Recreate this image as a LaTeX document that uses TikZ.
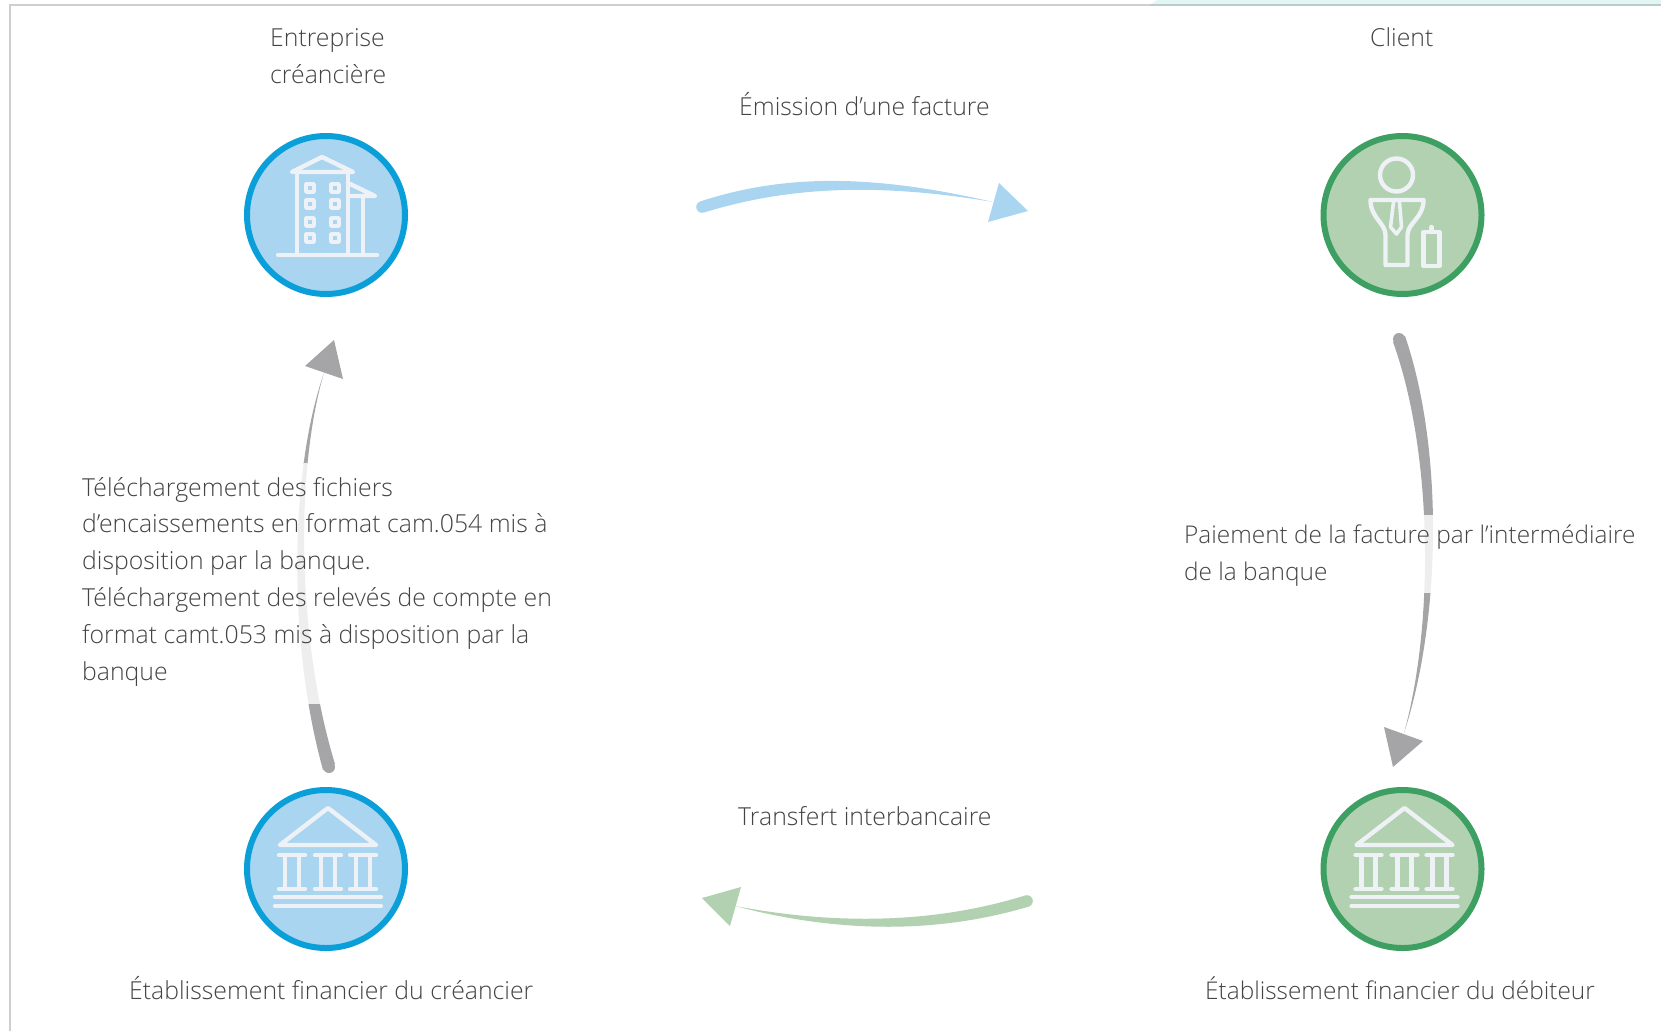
\documentclass[tikz,border=0pt]{standalone}
\usepackage{fontspec}
\setmainfont{Open Sans Light}
\definecolor{bluefill}{HTML}{A9D5F0}
\definecolor{bluering}{HTML}{0B9FDA}
\definecolor{greenfill}{HTML}{B1D1B0}
\definecolor{greenring}{HTML}{3E9F62}
\definecolor{arrowgrey}{HTML}{A5A5A7}
\definecolor{fadegrey}{HTML}{EEEEEE}
\definecolor{icongrey}{HTML}{EEF2F6}
\definecolor{textgrey}{HTML}{444444}
\definecolor{framegrey}{HTML}{CFCFCF}
\definecolor{bandteal}{HTML}{E0F5F4}
\definecolor{bandline}{HTML}{B8CCCB}
\tikzset{
    bluecircle/.style={circle, draw=bluering, fill=bluefill, line width=6pt, minimum size=158pt, inner sep=0pt},
    greencircle/.style={circle, draw=greenring, fill=greenfill, line width=6pt, minimum size=158pt, inner sep=0pt},
    label text/.style={anchor=base west, inner sep=0pt, text=textgrey, align=left, font=\fontsize{24.8}{36.8}\selectfont},
    narrow text/.style={label text, font=\fontsize{24.4}{36.8}\selectfont},
    icon/.style={draw=icongrey, line width=4.4pt, line join=round, line cap=round},
    bankicon/.pic={
        \draw[icon] (-46,-24) -- (2,-61) -- (50,-24) -- cycle;
        \foreach \c in {-34,2,37} {
            \draw[icon] (\c-13,-14) -- (\c+13,-14);
            \draw[icon] (\c-13,20) -- (\c+13,20);
            \draw[icon] (\c-7,-14) -- (\c-7,20);
            \draw[icon] (\c+7,-14) -- (\c+7,20);
        }
        \draw[icon] (-51,28) -- (55,28);
        \draw[icon] (-51,37) -- (55,37);
    }
}
\begin{document}
\begin{tikzpicture}[x=1pt, y=-1pt]
    \useasboundingbox (0,0) rectangle (1661,1031);
    % frame
    \fill[bandteal] (1157,0) -- (1661,0) -- (1661,5) -- (1150,5) -- cycle;
    \draw[framegrey, line width=1.5pt] (10,1031) -- (10,5) -- (1150,5);
    \draw[bandline, line width=1.5pt] (1150,5) -- (1661,5);

    \node[bluecircle] (entreprise) at (326,215) {};
    \node[greencircle] (client) at (1402.5,215) {};
    \node[bluecircle] (creancier) at (326,869) {};
    \node[greencircle] (debiteur) at (1402.5,869) {};

    % building
    \begin{scope}[shift={(entreprise.center)}]
        \draw[icon] (-34,-43) -- (-4,-58) -- (27,-43) -- cycle;
        \draw[icon] (-29,-40) -- (-29,40);
        \draw[icon] (22,-40) -- (22,40);
        \draw[icon] (-48,40) -- (51,40);
        \draw[icon] (22,-32) -- (49,-19) -- (22,-19);
        \draw[icon] (37,-19) -- (37,40);
        \foreach \wx in {-16,9}
            \foreach \wy in {-27,-11,7,23}
                \draw[icon, line width=3.6pt] (\wx-4,\wy-4) rectangle (\wx+4,\wy+4);
    \end{scope}

    % person
    \begin{scope}[shift={(client.center)}]
        \draw[icon] (-6,-40) circle (16.5);
        \draw[icon] (-32,-15) -- (21,-15) .. controls (21,3) and (5,8) .. (5,20)
            -- (5,50) -- (-17,50) -- (-17,20) .. controls (-17,8) and (-32,3) .. cycle;
        \draw[icon, line width=3.6pt] (-9,-13) -- (-12,12) -- (-6,19) -- (-1,12) -- (-3,-13);
        \draw[icon] (21,17) rectangle (37,51);
        \draw[icon] (29,12) -- (29,17);
    \end{scope}

    \pic at (creancier.center) {bankicon};
    \pic at (debiteur.center) {bankicon};

    % arrows
    \coordinate (emissionA) at (702,207);
    \coordinate (emissionB) at (993,202);
    \fill[bluefill] (emissionA) circle (5.8);
    \fill[bluefill] (700,201.5) .. controls (790,172) and (880,176) .. (emissionB)
        .. controls (880,183) and (790,186) .. (704,212.5) -- cycle;
    \fill[bluefill] (999,183) -- (1028,211) -- (988,222) -- cycle;

    \coordinate (paiementA) at (1399,339);
    \coordinate (paiementB) at (1404,733);
    \foreach \ya/\yb/\col in {300/515/arrowgrey, 515/593/fadegrey, 593/760/arrowgrey} {
        \begin{scope}
            \clip (1300,\ya) rectangle (1500,\yb);
            \fill[\col] (1405,336) .. controls (1444,450) and (1441,620) .. (paiementB)
                .. controls (1435,620) and (1432,450) .. (1393,342) -- cycle;
        \end{scope}
    }
    \fill[arrowgrey] (paiementA) circle (6);
    \fill[arrowgrey] (1384,727) -- (1423,741) -- (1393,767) -- cycle;

    \coordinate (transfertA) at (1027,901);
    \coordinate (transfertB) at (735,906);
    \fill[greenfill] (transfertA) circle (5.8);
    \fill[greenfill] (1029,906.5) .. controls (930,936) and (830,931) .. (transfertB)
        .. controls (830,924) and (930,925) .. (1025,895.5) -- cycle;
    \fill[greenfill] (702,898) -- (741,887) -- (730,926) -- cycle;

    \coordinate (relevesA) at (329,767);
    \coordinate (relevesB) at (324,373);
    \foreach \ya/\yb/\col in {360/463/arrowgrey, 463/704/fadegrey, 704/790/arrowgrey} {
        \begin{scope}
            \clip (200,\ya) rectangle (400,\yb);
            \fill[\col] (335,764) .. controls (297,640) and (295,470) .. (relevesB)
                .. controls (290,470) and (287,640) .. (323,770) -- cycle;
        \end{scope}
    }
    \fill[arrowgrey] (relevesA) circle (6);
    \fill[arrowgrey] (334,340) -- (343,379) -- (305,366) -- cycle;

    % labels
    \node[label text] (lblentreprise) at (270,83) {Entreprise\\créancière};
    \node[label text] (lblclient) at (1370,46) {Client};
    \node[label text] (lblemission) at (739,115) {Émission d’une facture};
    \node[label text] (lbltransfert) at (738,825) {Transfert interbancaire};
    \node[label text] (lblcreancier) at (129,999) {Établissement financier du créancier};
    \node[narrow text] (lbldebiteur) at (1205,999) {Établissement financier du débiteur};
    \node[narrow text] (lblpaiement) at (1184,580) {Paiement de la facture par l’intermédiaire\\de la banque};
    \node[label text] (lblreleves) at (82,680) {Téléchargement des fichiers\\d’encaissements en format cam.054 mis à\\disposition par la banque.\\Téléchargement des relevés de compte en\\format camt.053 mis à disposition par la\\banque};
\end{tikzpicture}
\end{document}
